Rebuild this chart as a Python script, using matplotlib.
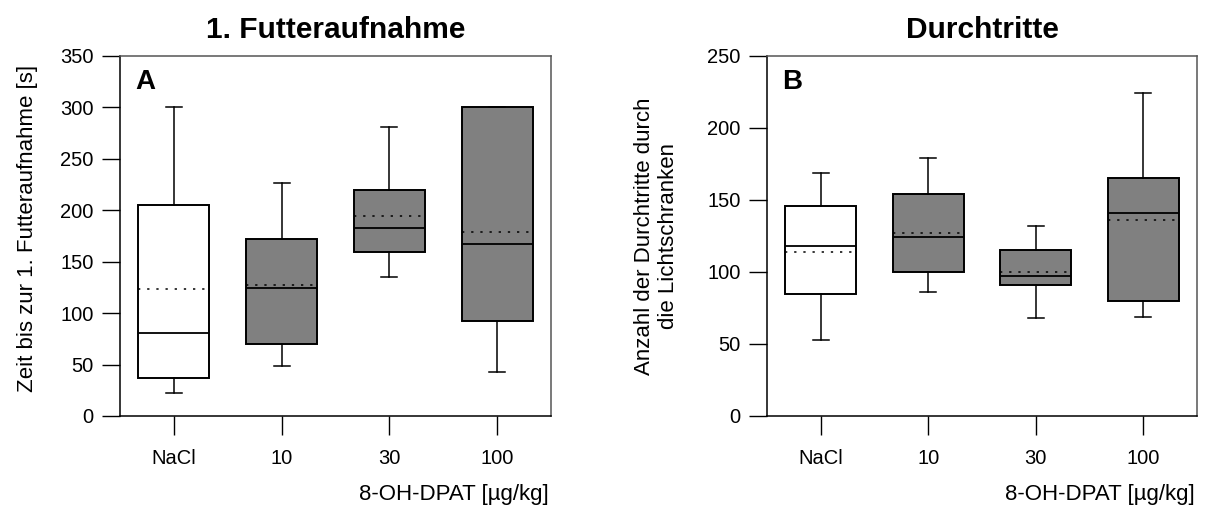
import matplotlib
matplotlib.use("Agg")
import matplotlib.pyplot as plt

plt.rcParams['font.family'] = ['Liberation Sans', 'DejaVu Sans']

groups = ["NaCl", "10", "30", "100"]
box_colors = ["white", "#808080", "#808080", "#808080"]

# 1. Futteraufnahme [s]
a_whislo = [22, 49, 135, 43]
a_q1 = [37, 70, 159, 92]
a_med = [81, 124, 183, 167]
a_mean = [123, 127, 194, 179]
a_q3 = [205, 172, 220, 300]
a_whishi = [300, 226, 281, 300]

# Durchtritte
b_whislo = [53, 86, 68, 69]
b_q1 = [85, 100, 91, 80]
b_med = [118, 124, 97, 141]
b_mean = [114, 127, 100, 136]
b_q3 = [146, 154, 115, 165]
b_whishi = [169, 179, 132, 224]


def make_stats(lo, q1, med, mean, q3, hi):
    stats = []
    for i in range(len(lo)):
        stats.append(dict(whislo=lo[i], q1=q1[i], med=med[i], mean=mean[i],
                          q3=q3[i], whishi=hi[i], fliers=[]))
    return stats


def draw_panel(ax, stats, ymax, ystep, letter, title, ylabel):
    bp = ax.bxp(stats, positions=range(len(stats)), widths=0.66,
                capwidths=0.15, patch_artist=True, showmeans=True, meanline=True,
                boxprops=dict(edgecolor="black", linewidth=1.4),
                whiskerprops=dict(color="black", linewidth=1.1),
                capprops=dict(color="black", linewidth=1.1),
                medianprops=dict(color="black", linewidth=1.3),
                meanprops=dict(color="black", linestyle=(0, (1.5, 4.5)), linewidth=1.1))
    for patch, c in zip(bp["boxes"], box_colors):
        patch.set_facecolor(c)

    ax.set_xlim(-0.5, len(stats) - 0.5)
    ax.set_ylim(0, ymax)
    ax.set_yticks(range(0, ymax + 1, ystep))
    ax.set_xticks(range(len(stats)))
    ax.set_xticklabels(groups)
    ax.tick_params(axis="y", direction="out", length=13, width=1, labelsize=14.5, pad=6)
    ax.tick_params(axis="x", direction="out", length=14, width=1, labelsize=14.5, pad=10)
    for side in ["top", "right"]:
        ax.spines[side].set_color("#555555")
    for side in ax.spines:
        ax.spines[side].set_linewidth(1.1)

    ax.set_title(title, fontsize=21.5, fontweight="bold", pad=13)
    ax.text(0.035, 0.928, letter, transform=ax.transAxes, fontsize=20,
            fontweight="bold", ha="left", va="center")
    ax.set_xlabel("8-OH-DPAT [µg/kg]", fontsize=16)
    ax.xaxis.set_label_coords(0.995, -0.19)
    ax.xaxis.label.set_horizontalalignment("right")
    ax.set_ylabel(ylabel, fontsize=16, linespacing=1.15)


fig = plt.figure(figsize=(12.06, 5.11), dpi=100)
ax1 = fig.add_axes([0.0995, 0.186, 0.3574, 0.7045])
ax2 = fig.add_axes([0.636, 0.186, 0.3566, 0.7045])

draw_panel(ax1, make_stats(a_whislo, a_q1, a_med, a_mean, a_q3, a_whishi),
           350, 50, "A", "1. Futteraufnahme", "Zeit bis zur 1. Futteraufnahme [s]")
draw_panel(ax2, make_stats(b_whislo, b_q1, b_med, b_mean, b_q3, b_whishi),
           250, 50, "B", "Durchtritte",
           "Anzahl der Durchtritte durch\ndie Lichtschranken")

ax1.yaxis.set_label_coords(-0.19, 0.52)
ax2.yaxis.set_label_coords(-0.205, 0.5)

fig.savefig("out.png", dpi=100)
